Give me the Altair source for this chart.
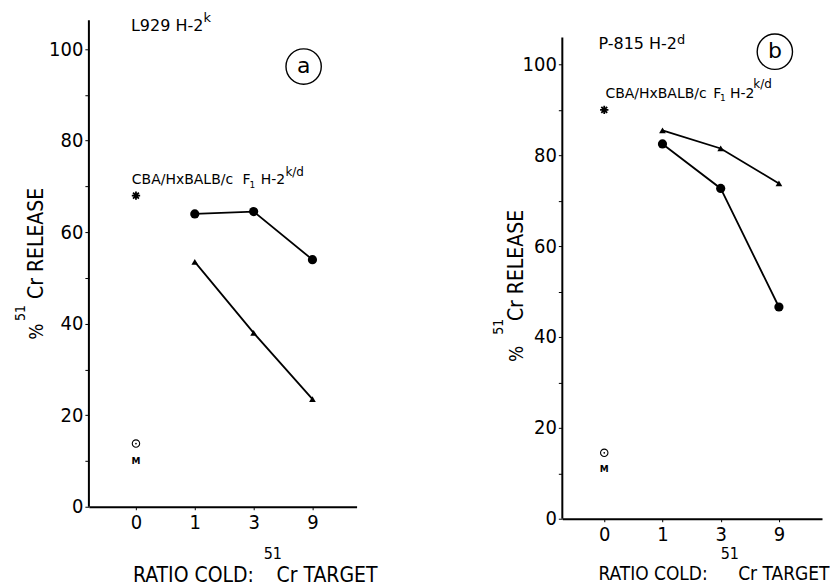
import altair as alt
import pandas as pd

# ---------------- data ----------------
ratio_labels = ["0", "1", "3", "9"]        # ratio cold : 51Cr target
ratio_pos = [0, 1, 2, 3]                   # equally spaced on the axis

a_circle = [64.0, 64.5, 54.0]              # panel a, filled circles at ratios 1,3,9
a_triangle = [53.5, 38.0, 23.5]            # panel a, triangles at ratios 1,3,9
a_star = [68.0]                            # panel a, F1 at ratio 0
a_medium = [13.8]                          # panel a, medium (M) at ratio 0

b_circle = [82.5, 72.7, 46.6]
b_triangle = [85.5, 81.5, 73.8]
b_star = [90.0]
b_medium = [14.5]

AX_FONT = "Liberation Sans Narrow, DejaVu Sans Condensed, Liberation Sans"
AN_FONT = "DejaVu Sans"
STAR = "M-1,0L1,0M0,-1L0,1M-0.7,-0.7L0.7,0.7M-0.7,0.7L0.7,-0.7"


def panel(circle, triangle, star, medium, cfg):
    xs = alt.Scale(domain=cfg["xdom"], nice=False, zero=False)
    ys = alt.Scale(domain=cfg["ydom"], nice=False, zero=False)
    xaxis = alt.Axis(values=ratio_pos, labelExpr="['0','1','3','9'][datum.value]",
                     tickSize=3, labelPadding=3, grid=False, domainWidth=2,
                     domainColor="black", tickColor="black", labelColor="black",
                     labelFont=AX_FONT, labelFontSize=20, title=None)
    yaxis = alt.Axis(values=list(range(0, 101, 10)),
                     labelExpr="datum.value % 20 == 0 ? datum.label : ''",
                     tickSize=4, labelPadding=2, grid=False, domain=False,
                     tickColor="black", labelColor="black",
                     labelFont=AX_FONT, labelFontSize=20, title=None)

    def X(f="x"):
        return alt.X(f"{f}:Q", scale=xs, axis=xaxis)

    def Y(f="y"):
        return alt.Y(f"{f}:Q", scale=ys, axis=yaxis)

    series = pd.DataFrame({
        "x": ratio_pos[1:] * 2,
        "y": circle + triangle,
        "s": ["circle"] * 3 + ["triangle"] * 3,
    })
    lines = alt.Chart(series).mark_line(color="black", strokeWidth=1.8).encode(
        x=X(), y=Y(), detail="s:N")
    circ = alt.Chart(series[series.s == "circle"]).mark_point(
        shape="circle", filled=True, color="black", size=85, opacity=1).encode(x=X(), y=Y())
    tri = alt.Chart(series[series.s == "triangle"]).mark_point(
        shape="triangle-up", filled=True, color="black", size=45, opacity=1).encode(x=X(), y=Y())
    st = alt.Chart(pd.DataFrame({"x": [ratio_pos[0]], "y": star})).mark_point(
        shape=STAR, filled=False, color="black", strokeWidth=1.8, size=70, opacity=1).encode(x=X(), y=Y())
    med = alt.Chart(pd.DataFrame({"x": [ratio_pos[0]], "y": medium})).mark_point(
        shape="circle", filled=False, color="black", strokeWidth=1.1, size=55, opacity=1).encode(x=X(), y=Y())
    medd = alt.Chart(pd.DataFrame({"x": [ratio_pos[0]], "y": medium})).mark_point(
        shape="circle", filled=True, color="black", size=3, opacity=1).encode(x=X(), y=Y())

    rule = alt.Chart(pd.DataFrame({"x": [cfg["xdom"][0]], "y": [0], "y2": [cfg["ytop"]]})).mark_rule(
        color="black", strokeWidth=2).encode(x=X(), y=Y(), y2="y2:Q")

    def txt(rows, **kw):
        df = pd.DataFrame(rows, columns=["x", "y", "t"])
        base = dict(font=AN_FONT, color="black", align="left", baseline="alphabetic")
        base.update(kw)
        return alt.Chart(df).mark_text(**base).encode(x=X(), y=Y(), text="t:N")

    layers = [rule, lines, circ, tri, st, med, medd]
    an = cfg["ann"]
    layers.append(txt([an["title"]], fontSize=16))
    layers.append(txt([an["title_sup"]], fontSize=13))
    layers.append(txt([an["strain"], an["F"], an["H2"]], fontSize=14))
    layers.append(txt([an["sub1"]], fontSize=9))
    layers.append(txt([an["kd"]], fontSize=12))
    layers.append(txt([an["M"]], fontSize=9, fontWeight="bold", align="center", baseline="middle"))
    circ_lab = an["letter"]
    layers.append(alt.Chart(pd.DataFrame({"x": [circ_lab[0]], "y": [circ_lab[1]]})).mark_point(
        shape="circle", filled=False, color="black", strokeWidth=1.4, size=1250, opacity=1).encode(x=X(), y=Y()))
    layers.append(txt([circ_lab], fontSize=22, align="center", baseline="middle", dy=-1))
    # axis titles
    layers.append(txt([an["xt1"], an["xt2"]], font=AX_FONT, fontSize=cfg["xt_font"]))
    layers.append(txt([an["xt_sup"]], font=AX_FONT, fontSize=16))
    layers.append(txt([an["yt_pct"]], font=AX_FONT, fontSize=19, angle=270, baseline="middle"))
    layers.append(txt([an["yt_main"]], font=AX_FONT, fontSize=21, angle=270, baseline="middle"))
    layers.append(txt([an["yt_sup"]], font=AX_FONT, fontSize=14, angle=270, baseline="middle"))

    return alt.layer(*layers).properties(width=cfg["w"], height=cfg["h"])


cfg_a = dict(
    xdom=[-0.8, 3.75], ydom=[0, 106.3], ytop=106.3, w=268, h=487, xt_font=21,
    ann=dict(
        title=(-0.085, 103.9, "L929 H-2"), title_sup=(1.15, 105.9, "k"),
        strain=(-0.07, 70.5, "CBA/HxBALB/c"), F=(1.81, 70.5, "F"), sub1=(1.93, 69.6, "1"),
        H2=(2.12, 70.5, "H-2"), kd=(2.54, 72.3, "k/d"),
        M=(0, 10.0, "M"), letter=(2.85, 96.2, "a"),
        xt1=(-0.05, -16.4, "RATIO COLD:"), xt_sup=(2.17, -11.35, "51"), xt2=(2.39, -16.4, "Cr TARGET"),
        yt_pct=(-1.69, 36.5, "%"), yt_main=(-1.69, 45.4, "Cr  RELEASE"), yt_sup=(-1.95, 40.6, "51"),
    ),
)
cfg_b = dict(
    xdom=[-0.72, 3.74], ydom=[0, 109.7], ytop=105.9, w=260, h=499, xt_font=19,
    ann=dict(
        title=(-0.10, 103.5, "P-815 H-2"), title_sup=(1.25, 104.6, "d"),
        strain=(0.02, 92.7, "CBA/HxBALB/c"), F=(1.87, 92.7, "F"), sub1=(1.99, 91.9, "1"),
        H2=(2.16, 92.7, "H-2"), kd=(2.56, 94.7, "k/d"),
        M=(0, 11.0, "M"), letter=(2.93, 102.8, "b"),
        xt1=(-0.10, -13.4, "RATIO COLD:"), xt_sup=(2.0, -8.8, "51"), xt2=(2.30, -13.4, "Cr TARGET"),
        yt_pct=(-1.49, 34.5, "%"), yt_main=(-1.49, 43.5, "Cr  RELEASE"), yt_sup=(-1.81, 40.5, "51"),
    ),
)

pa = panel(a_circle, a_triangle, a_star, a_medium, cfg_a)
pb = panel(b_circle, b_triangle, b_star, b_medium, cfg_b)

chart = alt.hconcat(pa, pb, spacing=206, bounds="flush").properties(
    padding={"left": 6, "top": 3, "right": 0, "bottom": 0}
).configure(background="white", view=alt.ViewConfig(stroke=None))

chart.save("out.html", embed_options={"renderer": "svg", "actions": False})
